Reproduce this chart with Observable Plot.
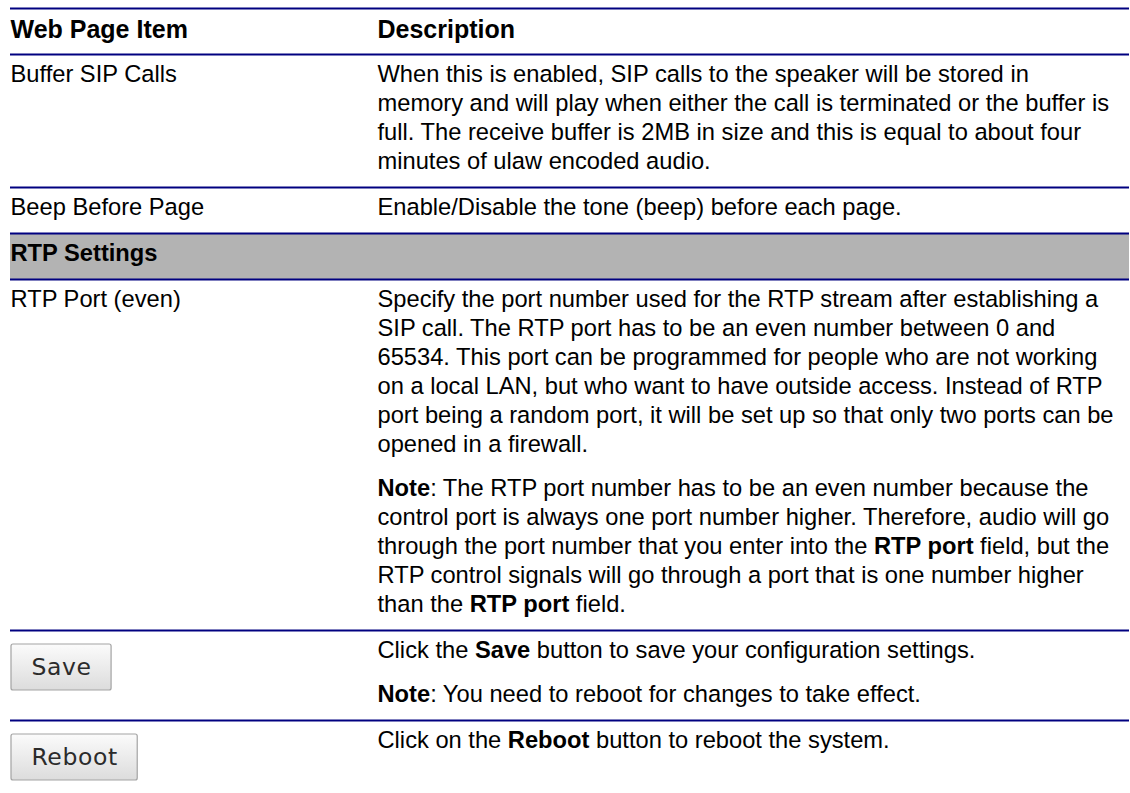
<!DOCTYPE html>
<html>
<head>
<meta charset="utf-8">
<script src="https://cdn.jsdelivr.net/npm/d3@7"></script>
<script src="https://cdn.jsdelivr.net/npm/@observablehq/plot@0.6"></script>
<style>
  html, body { margin: 0; padding: 0; background: #fff; }
</style>
</head>
<body>
<div id="chart"></div>
<script>
// ---------- data ----------
const headers = ["Web Page Item", "Description"];
const items = ["Buffer SIP Calls", "Beep Before Page", "RTP Settings", "RTP Port (even)", "Save", "Reboot"];
const descBuffer = [[
  "When this is enabled, SIP calls to the speaker will be stored in",
  "memory and will play when either the call is terminated or the buffer is",
  "full. The receive buffer is 2MB in size and this is equal to about four",
  "minutes of ulaw encoded audio."
]];
const descBeep = [["Enable/Disable the tone (beep) before each page."]];
const descSection = [];
const descRtpPort = [[
  "Specify the port number used for the RTP stream after establishing a",
  "SIP call. The RTP port has to be an even number between 0 and",
  "65534. This port can be programmed for people who are not working",
  "on a local LAN, but who want to have outside access. Instead of RTP",
  "port being a random port, it will be set up so that only two ports can be",
  "opened in a firewall."
], [
  "**Note**: The RTP port number has to be an even number because the",
  "control port is always one port number higher. Therefore, audio will go",
  "through the port number that you enter into the **RTP port** field, but the",
  "RTP control signals will go through a port that is one number higher",
  "than the **RTP port** field."
]];
const descSave = [
  ["Click the **Save** button to save your configuration settings."],
  ["**Note**: You need to reboot for changes to take effect."]
];
const descReboot = [["Click on the **Reboot** button to reboot the system."]];
const descriptions = [descBuffer, descBeep, descSection, descRtpPort, descSave, descReboot];
const sectionItems = ["RTP Settings"];
const buttonItems = ["Save", "Reboot"];

// ---------- layout ----------
const W = 1130, H = 793;
const tableLeft = 10, tableRight = 1129, itemX = 10, descX = 377;
const topRule = 8, headerH = 46;
const lineH = 29, paraStep = 44, padTop = 20, padBottom = 26, minRowH = 46;
const fontSize = 23.7, headerFontSize = 25;
const btnFont = "DejaVu Sans", btnFontSize = 23.5, btnLetter = 0.6, btnPadX = 20, btnTop = 14, btnH = 46;

const ctx = document.createElement("canvas").getContext("2d");
ctx.font = `${btnFontSize}px "${btnFont}"`;

const rules = [topRule, topRule + headerH];
const headerCells = [
  {x: itemX, y: topRule + headerH / 2 - 1.5, text: headers[0]},
  {x: descX, y: topRule + headerH / 2 - 1.5, text: headers[1]}
];
const cells = [], boldCells = [], bands = [], buttons = [];
let y = topRule + headerH;
items.forEach((item, i) => {
  const top = y;
  const isSection = sectionItems.includes(item);
  const isButton = buttonItems.includes(item);
  let cy = top + padTop, last = cy;
  descriptions[i].forEach((para, pi) => {
    if (pi > 0) cy += paraStep - lineH;
    para.forEach(line => { cells.push({x: descX, y: cy, text: line}); last = cy; cy += lineH; });
  });
  let bottom = Math.max(top + minRowH, last + padBottom);
  if (isButton) {
    const w = ctx.measureText(item).width + btnLetter * item.length + 2 * btnPadX;
    const b = {x1: tableLeft + 1, x2: tableLeft + 1 + w, y1: top + btnTop, y2: top + btnTop + btnH, label: item};
    b.cx = (b.x1 + b.x2) / 2; b.cy = (b.y1 + b.y2) / 2;
    buttons.push(b);
    bottom = Math.max(bottom, b.y2 + btnTop - 2);
  } else if (isSection) {
    boldCells.push({x: itemX, y: top + padTop, text: item});
    bands.push({x1: tableLeft, x2: tableRight, y1: top, y2: top + minRowH});
  } else {
    cells.push({x: itemX, y: top + padTop, text: item});
  }
  y = bottom;
  if (i < items.length - 1) rules.push(y);
});

const chart = Plot.plot({
  width: W, height: H, margin: 0,
  x: {domain: [0, W], range: [0, W], axis: null},
  y: {domain: [0, H], range: [0, H], axis: null},
  style: {fontFamily: "'Liberation Sans', Arial, Helvetica, sans-serif", background: "#fff", color: "#000"},
  marks: [
    Plot.rect(bands, {x1: "x1", x2: "x2", y1: "y1", y2: "y2", fill: "#b3b3b3"}),
    Plot.ruleY(rules, {y: d => d, x1: tableLeft, x2: tableRight, stroke: "#000080", strokeWidth: 2}),
    Plot.rect(buttons, {x1: "x1", x2: "x2", y1: "y1", y2: "y2", fill: "url(#btnGrad)", stroke: "#a3a3a3", strokeWidth: 1.2, rx: 2}),
    Plot.text(buttons, {x: "cx", y: "cy", text: "label", fontFamily: btnFont, fontSize: btnFontSize, fill: "#2b2b2b"}),
    Plot.text(headerCells, {x: "x", y: "y", text: "text", textAnchor: "start", lineAnchor: "middle", fontSize: headerFontSize, fontWeight: "bold", fill: "#000"}),
    Plot.text(boldCells, {x: "x", y: "y", text: "text", textAnchor: "start", lineAnchor: "middle", fontSize, fontWeight: "bold", fill: "#000"}),
    Plot.text(cells, {x: "x", y: "y", text: "text", textAnchor: "start", lineAnchor: "middle", fontSize, fill: "#000"})
  ]
});

const svg = d3.select(chart);
// gradient for the buttons
const grad = svg.insert("defs", ":first-child").append("linearGradient")
  .attr("id", "btnGrad").attr("x1", 0).attr("y1", 0).attr("x2", 0).attr("y2", 1);
grad.append("stop").attr("offset", "0%").attr("stop-color", "#fbfbfb");
grad.append("stop").attr("offset", "100%").attr("stop-color", "#dcdcdc");

// button label spacing
svg.selectAll("text").filter(function() { return buttonItems.includes(this.textContent); })
  .attr("letter-spacing", btnLetter);

// inline bold segments marked with **...**
svg.selectAll("text").each(function() {
  const t = this.textContent;
  if (!t.includes("**")) return;
  const sel = d3.select(this);
  sel.text(null);
  t.split("**").forEach((part, k) => {
    if (!part) return;
    const ts = sel.append("tspan").text(part);
    if (k % 2 === 1) ts.attr("font-weight", "bold");
  });
});

document.getElementById("chart").appendChild(chart);
</script>
</body>
</html>
